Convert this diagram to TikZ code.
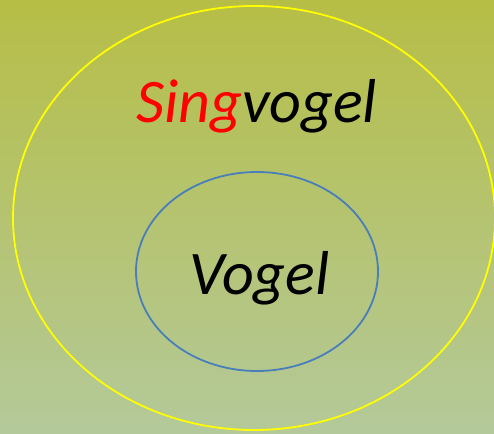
\documentclass[tikz,border=0pt]{standalone}
\usepackage{fontspec}
\setmainfont{Carlito}
\definecolor{bgtop}{HTML}{B6BE46}
\definecolor{bgbottom}{HTML}{B4C99A}
\definecolor{ringblue}{HTML}{4A7EBB}
\definecolor{ringyellow}{HTML}{FFFF00}
\begin{document}
\begin{tikzpicture}[x=1pt,y=1pt,
  ring/.style={line width=1.8pt},
  label/.style={font=\itshape\fontsize{62}{62}\selectfont, anchor=base, inner sep=0pt}]
  \useasboundingbox (0,0) rectangle (494,433);
  \shade[top color=bgtop, bottom color=bgbottom] (0,0) rectangle (494,433);
  % outer set
  \draw[ring, ringyellow] (254,215) ellipse [x radius=241, y radius=212];
  % inner set
  \draw[ring, ringblue] (257,161.5) ellipse [x radius=121, y radius=99.5];
  \node[label] (outer) at (256.5,310) {\textcolor{red}{Sing}vogel};
  \node[label] (inner) at (259.5,138) {Vogel};
\end{tikzpicture}
\end{document}
